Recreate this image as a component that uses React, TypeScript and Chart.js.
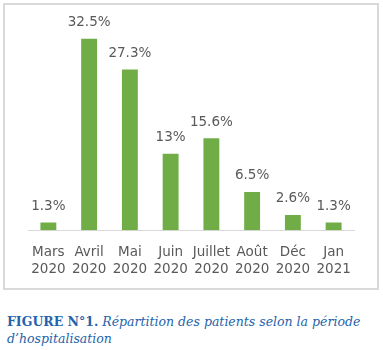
import React, { useEffect, useRef } from "react";
import { Chart, registerables } from "chart.js";

Chart.register(...registerables);

const categories: string[][] = [
  ["Mars", "2020"],
  ["Avril", "2020"],
  ["Mai", "2020"],
  ["Juin", "2020"],
  ["Juillet", "2020"],
  ["Août", "2020"],
  ["Déc", "2020"],
  ["Jan", "2021"],
];
const percentages: number[] = [1.3, 32.5, 27.3, 13, 15.6, 6.5, 2.6, 1.3];

const FONT = "'DejaVu Sans', Verdana, sans-serif";
const TEXT_COLOR = "#595959";

const dataLabelPlugin = {
  id: "dataLabels",
  afterDatasetsDraw(chart: any) {
    const ctx = chart.ctx;
    ctx.save();
    ctx.font = `13.5px ${FONT}`;
    ctx.fillStyle = TEXT_COLOR;
    ctx.textAlign = "center";
    ctx.textBaseline = "middle";
    chart.data.datasets.forEach((ds: any, di: number) => {
      const meta = chart.getDatasetMeta(di);
      meta.data.forEach((el: any, i: number) => {
        ctx.fillText(`${ds.data[i]}%`, el.x, el.y - 16);
      });
    });
    ctx.restore();
  },
};

export default function App() {
  const ref = useRef<HTMLCanvasElement | null>(null);

  useEffect(() => {
    if (!ref.current) return;
    const chart = new Chart(ref.current, {
      type: "bar",
      data: {
        labels: categories,
        datasets: [
          {
            data: percentages,
            backgroundColor: "#70AD47",
            borderWidth: 0,
            categoryPercentage: 1,
            barPercentage: 0.39,
          },
        ],
      },
      options: {
        animation: false,
        responsive: false,
        devicePixelRatio: 1,
        layout: { padding: { left: 28, right: 29, top: 24, bottom: 0 } },
        plugins: {
          legend: { display: false },
          tooltip: { enabled: false },
        },
        scales: {
          x: {
            grid: { display: false, drawTicks: false },
            border: { display: true, color: "#d9d9d9", width: 1 },
            ticks: {
              color: TEXT_COLOR,
              font: { family: FONT, size: 13.5, lineHeight: 1.25 },
              padding: 14,
              maxRotation: 0,
              autoSkip: false,
            },
          },
          y: { display: false, min: 0, max: 35 },
        },
      },
      plugins: [dataLabelPlugin],
    });
    return () => chart.destroy();
  }, []);

  return (
    <div style={{ position: "absolute", left: 0, top: 0, width: 383, height: 350, background: "#fff" }}>
      <canvas ref={ref} width={383} height={292} style={{ position: "absolute", left: 0, top: 0 }} />
      <div
        style={{
          position: "absolute",
          left: 3,
          top: 3,
          width: 376,
          height: 287,
          border: "2px solid #d9d9d9",
          boxSizing: "border-box",
          pointerEvents: "none",
        }}
      />
      <div
        style={{
          position: "absolute",
          left: 7,
          top: 313,
          width: 376,
          fontFamily: "'DejaVu Serif', serif",
          fontSize: 12.5,
          lineHeight: "17px",
          color: "#2463ab",
          whiteSpace: "nowrap",
        }}
      >
        <b>FIGURE N°1.</b> <i>Répartition des patients selon la période</i>
        <br />
        <i>d’hospitalisation</i>
      </div>
    </div>
  );
}
